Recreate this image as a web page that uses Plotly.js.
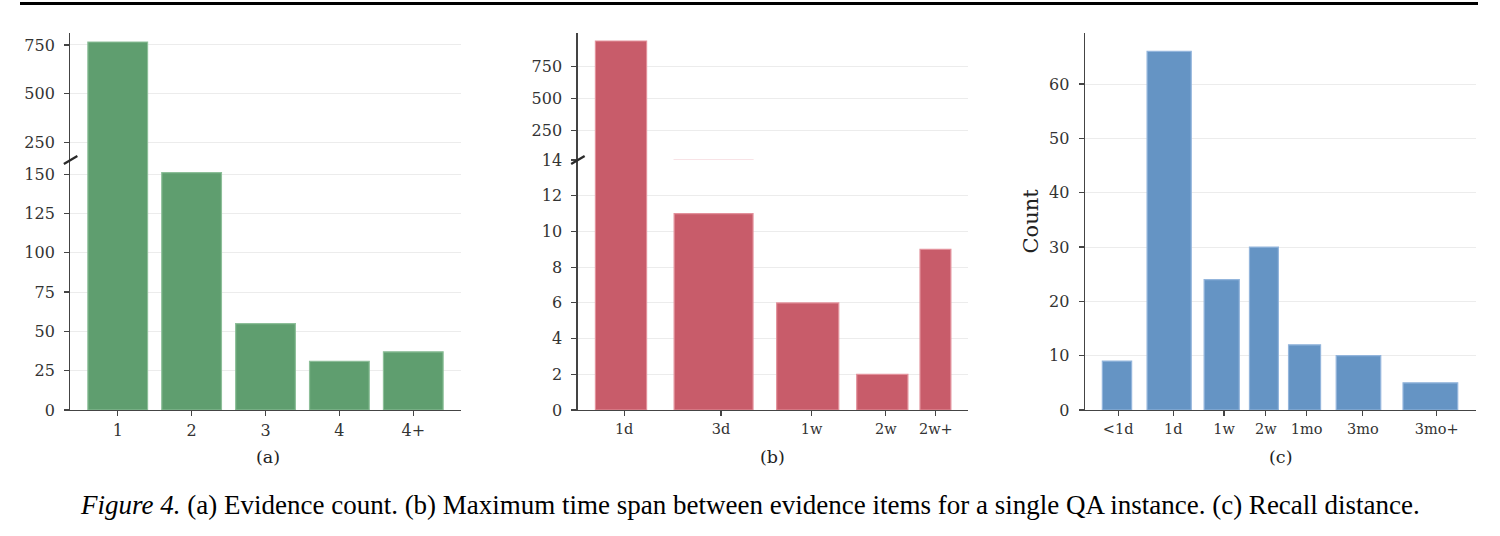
<!DOCTYPE html>
<html>
<head>
<meta charset="utf-8">
<script src="https://cdn.plot.ly/plotly-3.0.1.min.js"></script>
<style>html,body{margin:0;padding:0;background:#fff;}</style>
</head>
<body>
<div id="chart" style="width:1500px;height:536px;"></div>
<script>
// ---------- data ----------
const evidenceLabels = ["1", "2", "3", "4", "4+"];
const evidenceCounts = [765, 151, 55, 31, 37];

const spanLabels = ["1d", "3d", "1w", "2w", "2w+"];
const spanCounts = [953, 11, 6, 2, 9];

const recallLabels = ["<1d", "1d", "1w", "2w", "1mo", "3mo", "3mo+"];
const recallCounts = [9, 66, 24, 30, 12, 10, 5];

// ---------- layout constants (positions / widths on axis units) ----------
const spanBarPos = [1.11, 3.48, 5.89, 7.80, 9.16];
const spanBarWidth = [1.31, 2.02, 1.59, 1.31, 0.79];
const spanTickPos = [1.19, 3.67, 5.99, 7.89, 9.17];

const recallBarPos = [0.82, 2.155, 3.50, 4.58, 5.62, 7.00, 8.84];
const recallBarWidth = [0.75, 1.13, 0.90, 0.74, 0.82, 1.14, 1.40];
const recallTickPos = [0.85, 2.26, 3.56, 4.63, 5.67, 7.11, 9.00];

const green = "#5f9e6f", greenEdge = "#8dbf99";
const red = "#c85c6a", redEdge = "#e3919b";
const blue = "#6594c4", blueEdge = "#93b5dc";

const idx = evidenceLabels.map((_, i) => i);

const traces = [
  // (a) lower and upper
  {type: "bar", x: idx, y: evidenceCounts, xaxis: "x", yaxis: "y", width: 0.808,
   marker: {color: green, line: {color: greenEdge, width: 1.2}}, hoverinfo: "y"},
  {type: "bar", x: idx, y: evidenceCounts, xaxis: "x", yaxis: "y2", width: 0.808,
   marker: {color: green, line: {color: greenEdge, width: 1.2}}, hoverinfo: "y"},
  // (b)
  {type: "bar", x: spanBarPos, y: spanCounts, width: spanBarWidth, xaxis: "x2", yaxis: "y3",
   marker: {color: red, line: {color: redEdge, width: 1.2}}, hoverinfo: "y"},
  {type: "bar", x: spanBarPos, y: spanCounts, width: spanBarWidth, xaxis: "x2", yaxis: "y4",
   marker: {color: red, line: {color: redEdge, width: 1.2}}, hoverinfo: "y"},
  // (c)
  {type: "bar", x: recallBarPos, y: recallCounts, width: recallBarWidth, xaxis: "x3", yaxis: "y5",
   marker: {color: blue, line: {color: blueEdge, width: 1.2}}, hoverinfo: "y"}
];

const tickFont = {family: "DejaVu Serif", size: 16, color: "#333"};
const xTickFontSmall = {family: "DejaVu Serif", size: 14.5, color: "#333"};
const axLine = "#444";
const grid = "#ececec";
const split = 0.663;

function yax(extra) {
  return Object.assign({
    showline: true, linecolor: axLine, linewidth: 1.3,
    ticks: "outside", ticklen: 5, tickwidth: 1.2, tickcolor: axLine,
    showgrid: true, gridcolor: grid, gridwidth: 1, zeroline: false,
    tickfont: tickFont, ticklabelstandoff: 6, fixedrange: true
  }, extra);
}
function xax(extra) {
  return Object.assign({
    showline: true, linecolor: axLine, linewidth: 1.3,
    ticks: "outside", ticklen: 5, tickwidth: 1.2, tickcolor: axLine,
    showgrid: false, zeroline: false, fixedrange: true
  }, extra);
}

function breakMark(xPaper) {
  return {type: "line", xref: "paper", yref: "paper", xsizemode: "pixel", ysizemode: "pixel",
    xanchor: xPaper, yanchor: split, x0: -6.5, x1: 7, y0: -4, y1: 4,
    line: {color: "#2a2a2a", width: 2.4}, layer: "above"};
}

const layout = {
  width: 1500, height: 536, autosize: false,
  margin: {l: 0, r: 0, t: 33, b: 126, pad: 0},
  paper_bgcolor: "#fff", plot_bgcolor: "rgba(0,0,0,0)",
  showlegend: false, bargap: 0,
  xaxis: xax({domain: [0.0469, 0.3073], anchor: "y", type: "linear", range: [-0.641, 4.645],
    tickmode: "array", tickvals: idx, ticktext: evidenceLabels, tickfont: tickFont}),
  yaxis: yax({domain: [0, split], anchor: "x", range: [0, 159], tickmode: "array",
    tickvals: [0, 25, 50, 75, 100, 125, 150]}),
  yaxis2: yax({domain: [split, 1], anchor: "x", range: [161, 811], tickmode: "array",
    tickvals: [250, 500, 750]}),

  xaxis2: xax({domain: [0.3851, 0.6455], anchor: "y3", range: [0, 10],
    tickmode: "array", tickvals: spanTickPos, ticktext: spanLabels, tickfont: xTickFontSmall}),
  yaxis3: yax({domain: [0, split], anchor: "x2", range: [0, 14], tickmode: "array",
    tickvals: [0, 2, 4, 6, 8, 10, 12, 14]}),
  yaxis4: yax({domain: [split, 1], anchor: "x2", range: [14, 1016], tickmode: "array",
    tickvals: [250, 500, 750]}),

  xaxis3: xax({domain: [0.7233, 0.9838], anchor: "y5", range: [0, 10],
    tickmode: "array", tickvals: recallTickPos, ticktext: recallLabels, tickfont: xTickFontSmall}),
  yaxis5: yax({domain: [0, 1], anchor: "x3", range: [0, 69.4], tickmode: "array",
    tickvals: [0, 10, 20, 30, 40, 50, 60]}),

  shapes: [
    // top rule
    {type: "line", xref: "paper", yref: "paper", x0: 20/1500, x1: 1478/1500, y0: 1.078, y1: 1.078,
     line: {color: "#000", width: 3}},
    breakMark(0.0469),
    breakMark(0.3851)
  ],

  annotations: [
    {text: "(a)", xref: "paper", yref: "paper", x: (0.0469 + 0.3073) / 2 + 0.0015, y: -0.1247,
     xanchor: "center", yanchor: "middle", showarrow: false,
     font: {family: "DejaVu Serif", size: 17.5, color: "#222"}},
    {text: "(b)", xref: "paper", yref: "paper", x: (0.3851 + 0.6455) / 2, y: -0.1247,
     xanchor: "center", yanchor: "middle", showarrow: false,
     font: {family: "DejaVu Serif", size: 17.5, color: "#222"}},
    {text: "(c)", xref: "paper", yref: "paper", x: (0.7233 + 0.9838) / 2, y: -0.1247,
     xanchor: "center", yanchor: "middle", showarrow: false,
     font: {family: "DejaVu Serif", size: 17.5, color: "#222"}},
    {text: "Count", xref: "paper", yref: "paper", x: 1030 / 1500, y: 0.5, textangle: -90,
     xanchor: "center", yanchor: "middle", showarrow: false,
     font: {family: "DejaVu Serif", size: 21, color: "#222"}},
    {text: "<i>Figure 4.</i> (a) Evidence count. (b) Maximum time span between evidence items for a single QA instance. (c) Recall distance.",
     xref: "paper", yref: "paper", x: 0.5, y: -0.252, xanchor: "center", yanchor: "middle",
     showarrow: false, font: {family: "Liberation Serif", size: 27, color: "#000"}}
  ]
};

Plotly.newPlot("chart", traces, layout, {displayModeBar: false, staticPlot: true});
</script>
</body>
</html>
